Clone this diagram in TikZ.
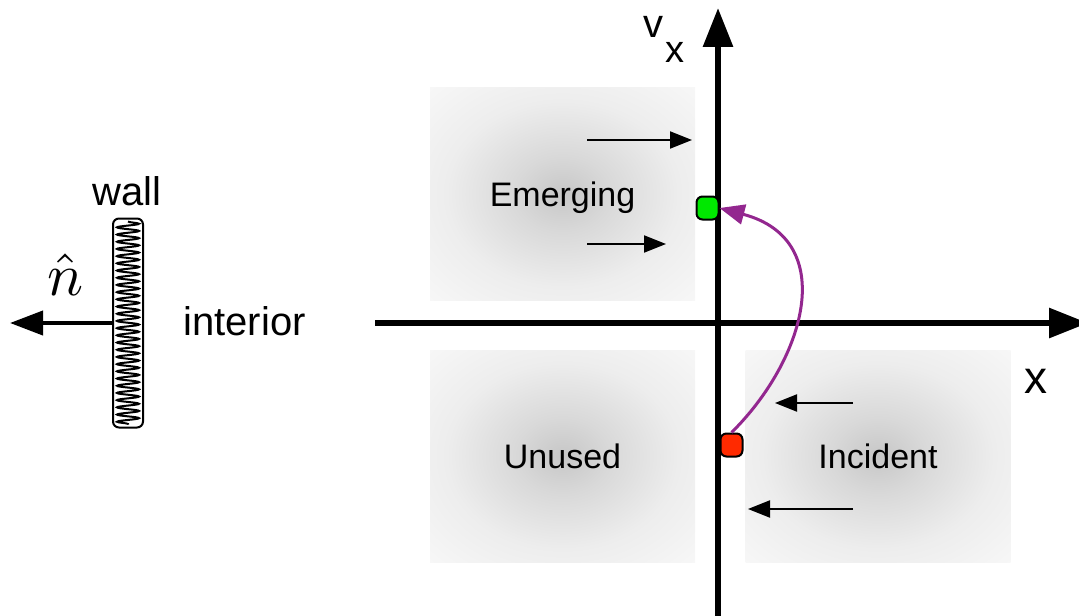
\documentclass[tikz,border=0pt]{standalone}
\usepackage{fontspec}
\setmainfont{Liberation Sans}
\usepackage{graphicx}
\usepackage{tikz}
\usetikzlibrary{arrows.meta,decorations.pathmorphing}
\definecolor{flowc}{HTML}{93278F}
\definecolor{outgo}{HTML}{00E800}
\definecolor{ingo}{HTML}{FF2A00}
\pgfdeclareradialshading{haze}{\pgfpoint{0bp}{0bp}}{%
  color(0bp)=(black!22); color(9bp)=(black!15); color(22bp)=(black!7);
  color(36bp)=(black!3); color(50bp)=(black!1); color(72bp)=(black!0)}
\newcommand{\fsz}[1]{\fontsize{#1}{#1}\selectfont}

\begin{document}
\begin{tikzpicture}[
    x=0.5pt, y=-0.5pt,
    region/.style={shading=haze,minimum width=132.5pt,minimum height=106pt,
                   inner sep=0pt,text height=12.2pt,text depth=0pt,font=\fsz{17}},
    axis/.style={line width=3pt,-{Triangle[length=19.5pt,width=14.5pt]}},
    drift/.style={line width=1pt,-{Triangle[length=11pt,width=8.5pt]}},
    normal/.style={line width=2pt,-{Triangle[length=16.5pt,width=12pt]}},
    flow/.style={draw=flowc,line width=1.5pt,
                 -{Triangle[length=12.5pt,width=10pt]}},
    point/.style={draw,line width=1pt,rounded corners=3pt,inner sep=0pt,
                  minimum width=11pt,minimum height=11.5pt},
    wallbox/.style={draw,line width=1pt,rounded corners=3pt,inner sep=0pt,
                    minimum width=15pt,minimum height=104.5pt},
    spring/.style={line width=1pt,decorate,
                   decoration={snake,amplitude=5.5pt,segment length=3.6pt}},
    lbl/.style={inner sep=0pt,font=\fsz{20}}
  ]
  \useasboundingbox (0,0) rectangle (1079,615);

  % phase-space regions
  \node[region] (bE) at (562.5,194) {Emerging};
  \node[region] (bU) at (562.5,456) {Unused};
  \node[region] (bI) at (878,456)   {Incident};

  % axes
  \coordinate (hL) at (375,323);
  \coordinate (hR) at (1088,323);
  \coordinate (vB) at (718,620);
  \coordinate (vT) at (718,8);
  \draw[axis] (hL) -- (hR);
  \draw[axis] (vB) -- (vT);
  \node[inner sep=0pt,anchor=base,font=\fsz{23}] (xlab) at (1036,393) {x};
  \node[inner sep=0pt,anchor=base west,font=\fsz{20}] (vlab) at (643,38)
    {v\hspace{1pt}\raisebox{-12.5pt}{\fsz{19}x}};

  % velocities
  \coordinate (eA1) at (587,140);
  \coordinate (eB1) at (692,140);
  \coordinate (eA2) at (587,244);
  \coordinate (eB2) at (666,244);
  \coordinate (iA1) at (853,403);
  \coordinate (iB1) at (775,403);
  \coordinate (iA2) at (853,509);
  \coordinate (iB2) at (748,509);
  \draw[drift] (eA1) -- (eB1);
  \draw[drift] (eA2) -- (eB2);
  \draw[drift] (iA1) -- (iB1);
  \draw[drift] (iA2) -- (iB2);

  % reflected particle
  \node[point,fill=outgo] (pG) at (707.5,208) {};
  \node[point,fill=ingo]  (pR) at (731.5,445) {};
  \draw[flow] (pR.north) .. controls (805,360) and (840,240) .. (pG.east);

  % wall
  \node[wallbox] (wall) at (128,323) {};
  \draw[spring] ([yshift=-2pt]wall.north) -- ([yshift=2pt]wall.south);
  \coordinate (nTip) at (10,323);
  \draw[normal] (wall.west) -- (nTip);
  \node[inner sep=0pt,anchor=base] (nlab) at (66,295) {\scalebox{3}{$\hat{n}$}};
  \node[lbl,anchor=base] (wlab) at (127,205) {wall};
  \node[lbl,anchor=base west] (ilab) at (183,335) {interior};

\end{tikzpicture}
\end{document}
